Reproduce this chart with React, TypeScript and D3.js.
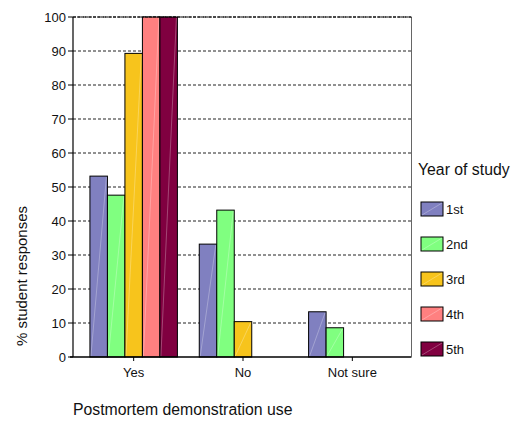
import React from "react";
import * as d3 from "d3";

const categories = ["Yes", "No", "Not sure"];
const years = ["1st", "2nd", "3rd", "4th", "5th"];
const colors = ["#8080C0", "#80FF80", "#F7C41C", "#FF8080", "#800040"];
const values1st = [53.2, 33.2, 13.3];
const values2nd = [47.6, 43.2, 8.6];
const values3rd = [89.3, 10.4, 0];
const values4th = [100, 0, 0];
const values5th = [100, 0, 0];
const yTicks = [0, 10, 20, 30, 40, 50, 60, 70, 80, 90, 100];

const series = [values1st, values2nd, values3rd, values4th, values5th];

export default function App() {
  const W = 522, H = 422;
  const left = 73, right = 411.5, top = 17, bottom = 357;
  const font = "'Liberation Sans', Arial, sans-serif";

  const y = d3.scaleLinear().domain([0, 100]).range([bottom, top]);
  const x0 = d3.scaleBand<string>().domain(categories).range([79, 407]).paddingInner(0.2).paddingOuter(0.1);
  const x1 = d3.scaleBand<string>().domain(years).range([0, x0.bandwidth()]).padding(0);

  const legendY = d3.scalePoint<string>().domain(years).range([209, 349]);

  return (
    <svg width={W} height={H} style={{ position: "absolute", left: 0, top: 0, background: "#fff" }}>
      {yTicks.filter((t) => t > 0).map((t) => (
        <line key={"g" + t} x1={left} x2={right} y1={y(t)} y2={y(t)} stroke="#222" strokeWidth={1} strokeDasharray="3,2" />
      ))}
      {categories.map((c, ci) => (
        <g key={c} transform={`translate(${x0(c)},0)`}>
          {years.map((yr, si) => {
            const v = series[si][ci];
            if (v <= 0) return null;
            const bx = x1(yr)!;
            const bw = x1.bandwidth();
            const by = y(v);
            const bh = y(0) - by;
            return (
              <g key={yr}>
                <rect x={bx} y={by} width={bw} height={bh} fill={colors[si]} stroke="#000" strokeWidth={1} />
                <line x1={bx + 1} y1={y(0) - 1} x2={bx + bw - 1} y2={by + 1} stroke="#fff" strokeOpacity={0.35} strokeWidth={0.8} />
              </g>
            );
          })}
        </g>
      ))}
      <line x1={left} x2={left} y1={top} y2={bottom} stroke="#000" strokeWidth={1.2} />
      <line x1={70} x2={right} y1={bottom} y2={bottom} stroke="#000" strokeWidth={1.5} />
      <line x1={right} x2={right} y1={top} y2={bottom} stroke="#666" strokeWidth={1} />
      <line x1={left} x2={right} y1={top} y2={top} stroke="#000" strokeWidth={1} strokeDasharray="3,1" />
      {yTicks.map((t) => (
        <g key={"t" + t}>
          <line x1={left - 5} x2={left} y1={y(t)} y2={y(t)} stroke="#000" />
          <text x={left - 7} y={y(t)} dy="0.35em" textAnchor="end" fontFamily={font} fontSize={13} fill="#111">{t}</text>
        </g>
      ))}
      {categories.map((c) => {
        const cx = x0(c)! + x0.bandwidth() / 2;
        return (
          <g key={"x" + c}>
            <line x1={cx} x2={cx} y1={bottom} y2={bottom + 4} stroke="#000" />
            <text x={cx} y={377} textAnchor="middle" fontFamily={font} fontSize={13} fill="#111">{c}</text>
          </g>
        );
      })}
      <text x={73} y={415} fontFamily={font} fontSize={15.8} fill="#111">Postmortem demonstration use</text>
      <text transform={`translate(27,276) rotate(-90)`} textAnchor="middle" fontFamily={font} fontSize={15} fill="#111">% student responses</text>
      <text x={418} y={175} fontFamily={font} fontSize={15.8} fill="#111">Year of study</text>
      {years.map((yr, i) => {
        const cy = legendY(yr)!;
        return (
          <g key={"l" + yr}>
            <rect x={421} y={cy - 7} width={22} height={14} fill={colors[i]} stroke="#000" strokeWidth={1} />
            <line x1={422} y1={cy + 6} x2={442} y2={cy - 6} stroke="#fff" strokeOpacity={0.35} strokeWidth={0.8} />
            <text x={446} y={cy} dy="0.35em" fontFamily={font} fontSize={13} fill="#111">{yr}</text>
          </g>
        );
      })}
    </svg>
  );
}
